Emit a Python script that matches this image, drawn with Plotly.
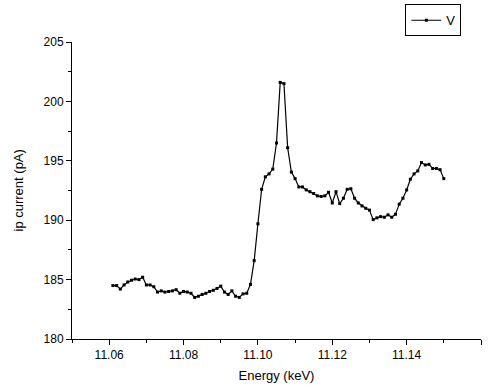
import plotly.graph_objects as go

energy_kev = [
    11.061, 11.062, 11.063, 11.064, 11.065, 11.066, 11.067, 11.068, 11.069, 11.070,
    11.071, 11.072, 11.073, 11.074, 11.075, 11.076, 11.077, 11.078, 11.079, 11.080,
    11.081, 11.082, 11.083, 11.084, 11.085, 11.086, 11.087, 11.088, 11.089, 11.090,
    11.091, 11.092, 11.093, 11.094, 11.095, 11.096, 11.097, 11.098, 11.099, 11.100,
    11.101, 11.102, 11.103, 11.104, 11.105, 11.106, 11.107, 11.108, 11.109, 11.110,
    11.111, 11.112, 11.113, 11.114, 11.115, 11.116, 11.117, 11.118, 11.119, 11.120,
    11.121, 11.122, 11.123, 11.124, 11.125, 11.126, 11.127, 11.128, 11.129, 11.130,
    11.131, 11.132, 11.133, 11.134, 11.135, 11.136, 11.137, 11.138, 11.139, 11.140,
    11.141, 11.142, 11.143, 11.144, 11.145, 11.146, 11.147, 11.148, 11.149, 11.150,
]

tip_current_pa = [
    184.5, 184.5, 184.2, 184.55, 184.8, 184.95, 185.05, 185.0, 185.2, 184.55,
    184.55, 184.4, 183.95, 184.05, 183.95, 184.0, 184.05, 184.15, 183.85, 184.0,
    183.95, 183.85, 183.5, 183.6, 183.75, 183.85, 184.0, 184.1, 184.25, 184.45,
    183.95, 183.75, 184.05, 183.6, 183.5, 183.8, 183.85, 184.6, 186.6, 189.7,
    192.6, 193.65, 193.9, 194.3, 196.5, 201.6, 201.5, 196.1, 194.05, 193.5,
    192.8, 192.8, 192.55, 192.4, 192.25, 192.05, 192.0, 192.05, 192.35, 191.45,
    192.4, 191.4, 191.85, 192.6, 192.65, 191.85, 191.45, 191.2, 191.0, 190.85,
    190.05, 190.2, 190.3, 190.25, 190.45, 190.25, 190.5, 191.35, 191.85, 192.55,
    193.45, 193.9, 194.15, 194.85, 194.65, 194.7, 194.35, 194.35, 194.25, 193.5,
]

series_name = "V"
x_title = "Energy (keV)"
y_title = "ip current (pA)"

FONT = "Liberation Sans, Arial, sans-serif"

fig = go.Figure()
fig.add_trace(go.Scatter(
    x=energy_kev, y=tip_current_pa, name=series_name,
    mode="lines+markers",
    line=dict(color="black", width=1.2),
    marker=dict(symbol="square", size=3, color="black"),
    showlegend=True,
))

axis_common = dict(
    showline=True, linecolor="black", linewidth=1,
    ticks="outside", ticklen=5, tickwidth=1, tickcolor="black",
    showgrid=False, zeroline=False, mirror=False, automargin=False,
    tickfont=dict(family=FONT, size=12, color="black"),
)

fig.update_layout(
    width=494, height=386,
    margin=dict(l=71.5, r=13.3, t=41.7, b=47, autoexpand=False),
    paper_bgcolor="white", plot_bgcolor="white",
    font=dict(family=FONT, size=12, color="black"),
    xaxis=dict(
        range=[11.05, 11.16], tick0=11.06, dtick=0.02, tickformat=".2f",
        minor=dict(dtick=0.01, tick0=11.05, ticks="outside", ticklen=3, tickcolor="black"),
        title=dict(text=x_title, font=dict(family=FONT, size=13), standoff=9),
        **axis_common,
    ),
    yaxis=dict(
        range=[180, 205], tick0=180, dtick=5,
        minor=dict(dtick=2.5, tick0=180, ticks="outside", ticklen=3, tickcolor="black"),
        title=dict(text=""),
        **axis_common,
    ),
    legend=dict(
        x=0.952, y=1.127, xanchor="right", yanchor="top",
        bordercolor="black", borderwidth=1, bgcolor="white",
        font=dict(family=FONT, size=13),
        itemwidth=30, tracegroupgap=0,
    ),
    annotations=[dict(
        text=y_title, textangle=-90, xref="paper", yref="paper",
        x=0, y=0.5, xanchor="center", yanchor="middle",
        xshift=-54, showarrow=False,
        font=dict(family=FONT, size=13, color="black"),
    )],
)

fig.write_html(
    "out.html",
    config={"displayModeBar": False},
    post_script="document.body.style.margin='0';document.body.style.padding='0';",
)
